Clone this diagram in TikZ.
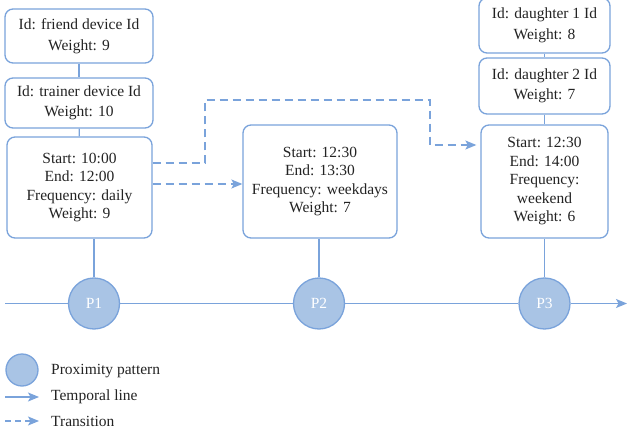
\documentclass[tikz,border=0pt]{standalone}
\usepackage{fontspec}
\setmainfont{Liberation Serif}
\usetikzlibrary{arrows.meta}
\definecolor{linecol}{RGB}{122,163,219}
\definecolor{fillcol}{RGB}{169,196,229}
\definecolor{txtcol}{RGB}{35,35,35}
\begin{document}
\begin{tikzpicture}[x=1pt,y=-1pt,
idbox/.style={draw=linecol, line width=1.3pt, rounded corners=8pt, fill=white, align=center, text=txtcol, inner sep=0pt, font=\fontsize{15.5}{20.5}\selectfont},
timebox/.style={idbox, font=\fontsize{15.5}{18.5}\selectfont},
patnode/.style={circle, draw=linecol, line width=1.3pt, fill=fillcol, inner sep=0pt, text=white, font=\fontsize{15.5}{18}\selectfont},
link/.style={draw=linecol, line width=1.3pt},
trans/.style={link, dash pattern=on 8pt off 5pt, -{Stealth[length=11pt,width=9pt,inset=2.5pt]}},
legtext/.style={anchor=west, text=txtcol, inner sep=0pt, font=\fontsize{15.5}{18}\selectfont},
]
\useasboundingbox (0,0) rectangle (627,436);

% boxes of P1
\node[idbox, minimum width=148pt, minimum height=54pt](friend) at (79,36) {Id: friend device Id\\Weight: 9};
\node[idbox, minimum width=148pt, minimum height=50pt](trainer) at (79,103) {Id: trainer device Id\\Weight: 10};
\node[timebox, minimum width=145pt, minimum height=101pt](box1) at (79.5,187.5) {Start: 10:00\\End: 12:00\\Frequency: daily\\Weight: 9};

% box of P2
\node[timebox, minimum width=154pt, minimum height=113pt](box2) at (320,181.5) {Start: 12:30\\End: 13:30\\Frequency: weekdays\\Weight: 7};

% boxes of P3
\node[idbox, minimum width=131pt, minimum height=55pt](daughter1) at (544.5,25.5) {Id: daughter 1 Id\\Weight: 8};
\node[idbox, minimum width=131pt, minimum height=56pt](daughter2) at (544.5,86) {Id: daughter 2 Id\\Weight: 7};
\node[timebox, minimum width=127pt, minimum height=113pt](box3) at (544.5,181.5) {Start: 12:30\\End: 14:00\\Frequency:\\weekend\\Weight: 6};

% proximity patterns
\node[patnode, minimum size=51pt](p1) at (94,303.5) {P1};
\node[patnode, minimum size=51pt](p2) at (319,303.5) {P2};
\node[patnode, minimum size=51pt](p3) at (544.5,303.5) {P3};

\coordinate (tstart) at (5,303.5);
\coordinate (tend) at (627,303.5);
\coordinate (up1) at (205,100);
\coordinate (up2) at (430,145);

\draw[link] (friend) -- (trainer);
\draw[link] (trainer) -- (box1);
\draw[link] (daughter1) -- (daughter2);
\draw[link] (daughter2) -- (box3);
\draw[link] (p1.north) -- (p1.north |- box1.south);
\draw[link] (p2.north) -- (p2.north |- box2.south);
\draw[link] (p3.north) -- (p3.north |- box3.south);

% temporal line
\draw[link, -{Stealth[length=11pt,width=9pt,inset=2.5pt]}] (tstart) -- (p1) -- (p2) -- (p3) -- (tend);

% transitions
\draw[trans] (box1.east |- 0,184) -- (box2.west |- 0,184);
\draw[trans, shorten >=4pt] (box1.east |- 0,163) -| (up1) -| (up2) -- (box3.west |- up2);

% legend
\node[patnode, minimum size=32pt](legcirc) at (22,370) {};
\node[legtext](legpat) at (51,371) {Proximity pattern};
\coordinate (lt1) at (5,397);
\coordinate (lt2) at (39,397);
\draw[link, -{Stealth[length=11pt,width=9pt,inset=2.5pt]}] (lt1) -- (lt2);
\node[legtext](legtime) at (51,397) {Temporal line};
\coordinate (ls1) at (5,421);
\coordinate (ls2) at (39,421);
\draw[trans, dash pattern=on 6pt off 4pt] (ls1) -- (ls2);
\node[legtext](legtrans) at (51,421) {Transition};
\end{tikzpicture}
\end{document}
